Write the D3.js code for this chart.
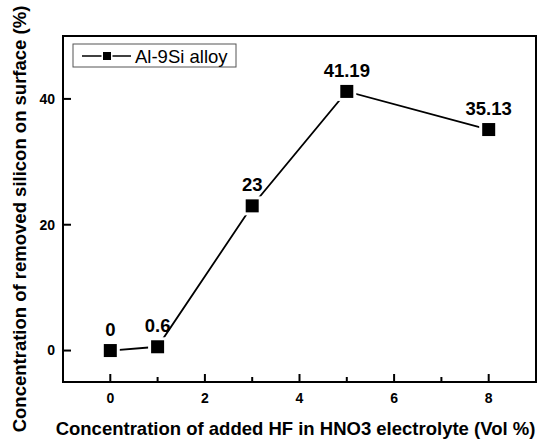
<!DOCTYPE html>
<html><head><meta charset="utf-8">
<script src="https://cdn.jsdelivr.net/npm/d3@7"></script>
<style>body{margin:0;background:#fff}svg{display:block}</style>
</head><body>
<script>
const hfConc = [0, 1, 3, 5, 8];
const siRemoved = [0, 0.6, 23, 41.19, 35.13];
const pointLabels = ["0", "0.6", "23", "41.19", "35.13"];
const xTicks = [0, 2, 4, 6, 8];
const xMinorTicks = [1, 3, 5, 7];
const yTicks = [0, 20, 40];
const seriesName = "Al-9Si alloy";
const xTitle = "Concentration of added HF in HNO3 electrolyte (Vol %)";
const yTitle = "Concentration of removed silicon on surface (%)";

const W = 543, H = 442;
const m = {l: 63, t: 36, r: 536, b: 382};
const svg = d3.select("body").append("svg").attr("width", W).attr("height", H);
const font = "Liberation Sans, Arial, sans-serif";

const x = d3.scaleLinear().domain([-1, 9]).range([m.l, m.r]);
const y = d3.scaleLinear().domain([-5, 50]).range([m.b, m.t]);

svg.append("rect").attr("x", m.l).attr("y", m.t).attr("width", m.r - m.l).attr("height", m.b - m.t)
  .attr("fill", "none").attr("stroke", "#000").attr("stroke-width", 2);

// x ticks
svg.selectAll("line.xt").data(xTicks).join("line").attr("class", "xt")
  .attr("x1", d => x(d)).attr("x2", d => x(d)).attr("y1", m.b).attr("y2", m.b - 8)
  .attr("stroke", "#000").attr("stroke-width", 2);
svg.selectAll("line.xm").data(xMinorTicks).join("line").attr("class", "xm")
  .attr("x1", d => x(d)).attr("x2", d => x(d)).attr("y1", m.b).attr("y2", m.b - 5)
  .attr("stroke", "#000").attr("stroke-width", 2);
svg.selectAll("text.xl").data(xTicks).join("text").attr("class", "xl")
  .attr("x", d => x(d)).attr("y", 402.5).attr("text-anchor", "middle")
  .attr("font-family", font).attr("font-weight", "bold").attr("font-size", 14)
  .text(d3.format("d"));
// y ticks
svg.selectAll("line.yt").data(yTicks).join("line").attr("class", "yt")
  .attr("x1", m.l).attr("x2", m.l + 8).attr("y1", d => y(d)).attr("y2", d => y(d))
  .attr("stroke", "#000").attr("stroke-width", 2);
svg.selectAll("text.yl").data(yTicks).join("text").attr("class", "yl")
  .attr("x", m.l - 8).attr("y", d => y(d)).attr("dy", "0.35em").attr("text-anchor", "end")
  .attr("font-family", font).attr("font-weight", "bold").attr("font-size", 14)
  .text(d3.format("d"));

const pts = hfConc.map((v, i) => ({x: v, y: siRemoved[i], label: pointLabels[i]}));

svg.append("path").datum(pts)
  .attr("d", d3.line().x(d => x(d.x)).y(d => y(d.y)))
  .attr("fill", "none").attr("stroke", "#000").attr("stroke-width", 1.8);

const ms = 13;
svg.selectAll("rect.halo").data(pts).join("rect").attr("class", "halo")
  .attr("x", d => x(d.x) - ms / 2 - 3).attr("y", d => y(d.y) - ms / 2 - 3)
  .attr("width", ms + 6).attr("height", ms + 6).attr("fill", "#fff");
svg.selectAll("rect.mk").data(pts).join("rect").attr("class", "mk")
  .attr("x", d => x(d.x) - ms / 2).attr("y", d => y(d.y) - ms / 2)
  .attr("width", ms).attr("height", ms).attr("fill", "#000");

svg.selectAll("text.lbl").data(pts).join("text").attr("class", "lbl")
  .attr("x", d => x(d.x)).attr("y", d => Math.min(y(d.y), y(0)) - 14.5)
  .attr("text-anchor", "middle").attr("font-family", font).attr("font-weight", "bold")
  .attr("font-size", 18.5).text(d => d.label);

const lg = svg.append("g");
lg.append("rect").attr("x", 73).attr("y", 44).attr("width", 163).attr("height", 23)
  .attr("fill", "#fff").attr("stroke", "#555").attr("stroke-width", 1);
lg.append("line").attr("x1", 82).attr("x2", 131).attr("y1", 56).attr("y2", 56)
  .attr("stroke", "#000").attr("stroke-width", 1.5);
lg.append("rect").attr("x", 101.5).attr("y", 50.5).attr("width", 11).attr("height", 11).attr("fill", "#fff");
lg.append("rect").attr("x", 103).attr("y", 52).attr("width", 8).attr("height", 8).attr("fill", "#000");
lg.append("text").attr("x", 135).attr("y", 62.5).attr("font-family", font).attr("font-size", 18.5)
  .text(seriesName);

svg.append("text").attr("x", 295.5).attr("y", 435).attr("text-anchor", "middle")
  .attr("font-family", font).attr("font-weight", "bold").attr("font-size", 18.5).text(xTitle);
svg.append("text").attr("transform", `translate(26,219) rotate(-90)`).attr("text-anchor", "middle")
  .attr("font-family", font).attr("font-weight", "bold").attr("font-size", 18.5).text(yTitle);
</script>
</body></html>
